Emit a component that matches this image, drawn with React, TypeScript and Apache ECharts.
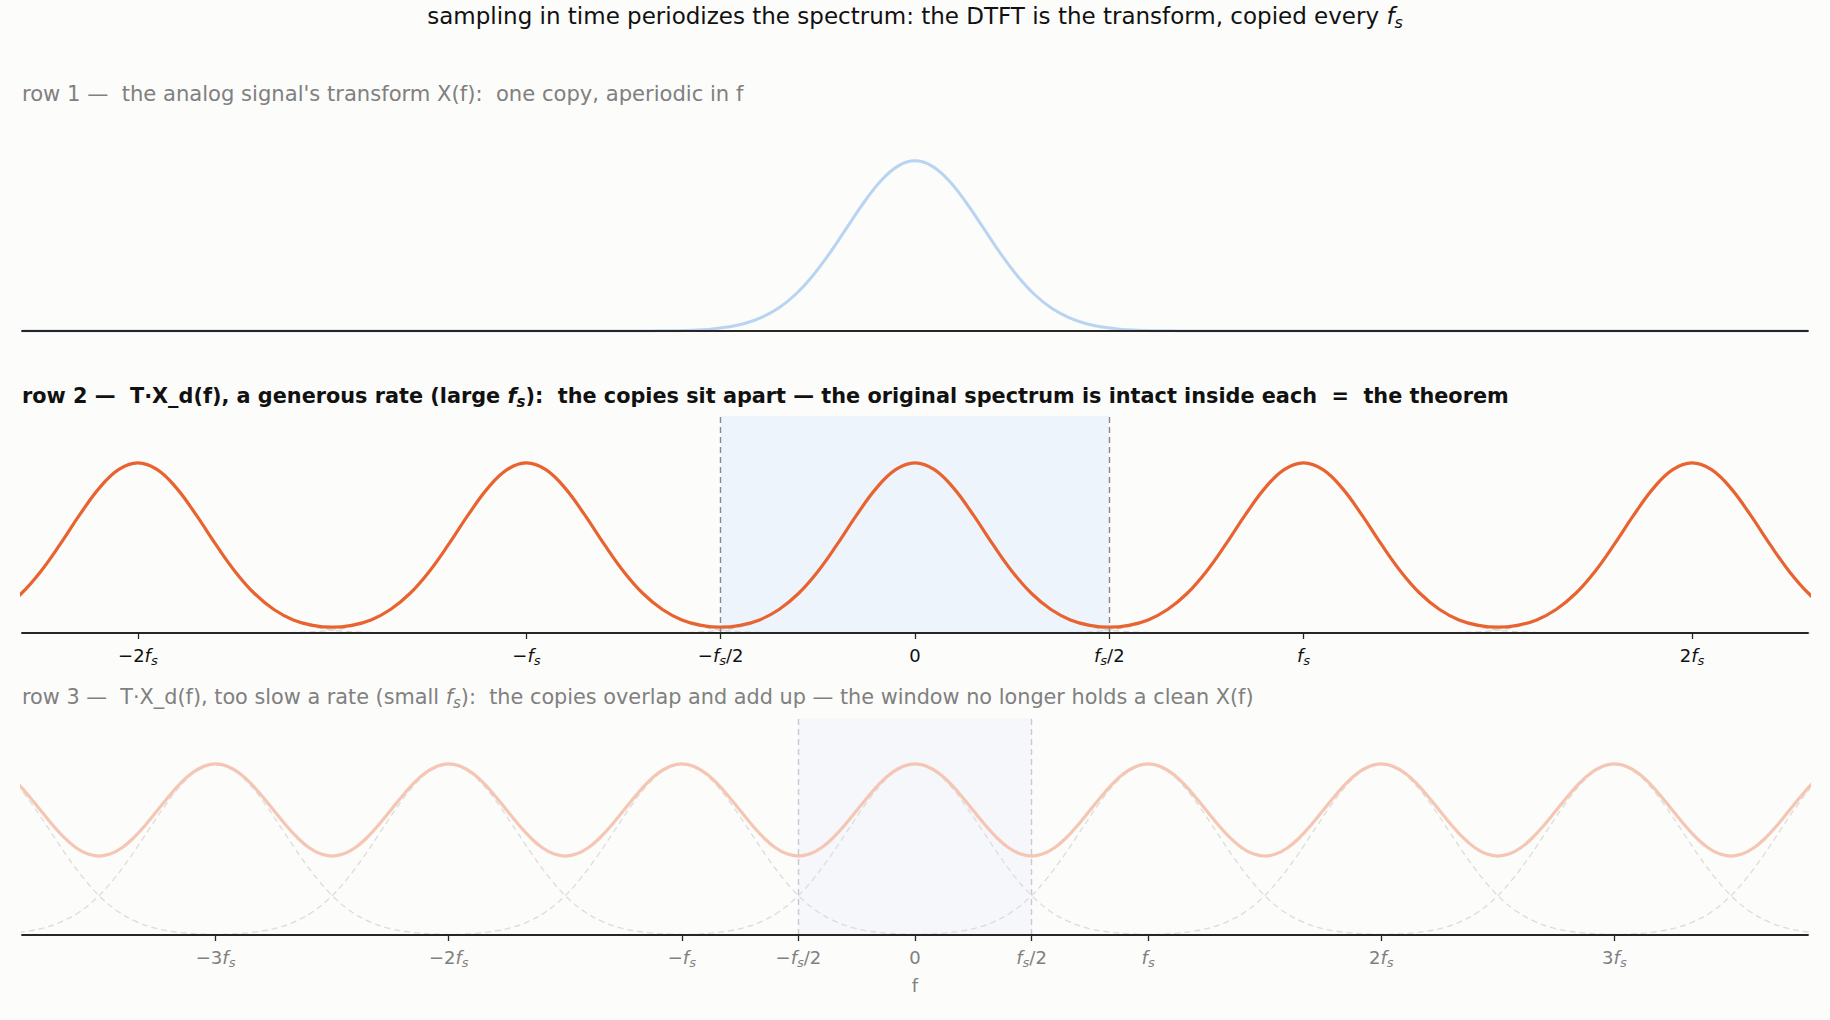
import React, { useEffect, useRef } from "react";
import * as echarts from "echarts";

// ---- data (x in units of the spectrum's width) ----
const FS_LARGE = 5.7; // generous sampling rate (row 2)
const FS_SMALL = 3.42; // too slow a sampling rate (row 3)
const X_HALF = 13.1; // x-axis runs from -X_HALF to X_HALF
const Y_TOP = 1.275;

// one copy of X(f): height at distance d from its centre
const PROFILE_D = [0, 0.25, 0.5, 0.75, 1, 1.25, 1.5, 1.75, 2, 2.25, 2.5, 2.75, 3, 3.25, 3.5, 3.75, 4, 4.5];
const PROFILE_Y = [1, 0.969, 0.883, 0.755, 0.607, 0.458, 0.325, 0.216, 0.135, 0.08, 0.044, 0.023, 0.011, 0.005, 0.002, 0.001, 0.0003, 0];

// periodized sum over one half period, at u * fs from a peak
const PERIOD_U = [0, 0.05, 0.1, 0.15, 0.2, 0.25, 0.3, 0.35, 0.4, 0.45, 0.5];
const ROW2_SUM = [1.0, 0.96, 0.85, 0.694, 0.522, 0.362, 0.232, 0.138, 0.077, 0.045, 0.034];
const ROW3_SUM = [1.006, 0.992, 0.953, 0.892, 0.815, 0.731, 0.648, 0.573, 0.514, 0.477, 0.464];

const ROW2_COPIES = [-3, -2, -1, 0, 1, 2, 3];
const ROW3_COPIES = [-4, -3, -2, -1, 0, 1, 2, 3, 4];

const ROW2_TICKS = [-2, -1, -0.5, 0, 0.5, 1, 2];
const ROW2_LABELS = ["−2{i|f}{s|s}", "−{i|f}{s|s}", "−{i|f}{s|s}/2", "0", "{i|f}{s|s}/2", "{i|f}{s|s}", "2{i|f}{s|s}"];
const ROW3_TICKS = [-3, -2, -1, -0.5, 0, 0.5, 1, 2, 3];
const ROW3_LABELS = ["−3{i|f}{s|s}", "−2{i|f}{s|s}", "−{i|f}{s|s}", "−{i|f}{s|s}/2", "0", "{i|f}{s|s}/2", "{i|f}{s|s}", "2{i|f}{s|s}", "3{i|f}{s|s}"];

const TITLE = "sampling in time periodizes the spectrum: the DTFT is the transform, copied every {i|f}{s|s}";
const ROW1_TITLE = "row 1 —  the analog signal's transform X(f):  one copy, aperiodic in f";
const ROW2_TITLE = "row 2 —  T·X_d(f), a generous rate (large {i|f}{s|s}):  the copies sit apart — the original spectrum is intact inside each  =  the theorem";
const ROW3_TITLE = "row 3 —  T·X_d(f), too slow a rate (small {i|f}{s|s}):  the copies overlap and add up — the window no longer holds a clean X(f)";
const X_LABEL = "f";

const FONT = "DejaVu Sans";
const BG = "#fcfcfa";
const BLUE = "#b9d4f1";
const ORANGE = "#e8632f";
const SALMON = "#f5c6b4";
const GRAY = "#808080";
const INK = "#111111";

function copyPoints(center: number): number[][] {
  const pts: number[][] = [];
  for (let i = PROFILE_D.length - 1; i > 0; i--) pts.push([center - PROFILE_D[i], PROFILE_Y[i]]);
  for (let i = 0; i < PROFILE_D.length; i++) pts.push([center + PROFILE_D[i], PROFILE_Y[i]]);
  return pts;
}

function sumPoints(fs: number, vals: number[], kMin: number, kMax: number): number[][] {
  const pts: number[][] = [];
  for (let k = kMin; k <= kMax; k++) {
    for (let i = PERIOD_U.length - 1; i > 0; i--) {
      if (k > kMin && i === PERIOD_U.length - 1) continue;
      pts.push([(k - PERIOD_U[i]) * fs, vals[i]]);
    }
    for (let i = 0; i < PERIOD_U.length; i++) pts.push([(k + PERIOD_U[i]) * fs, vals[i]]);
  }
  return pts;
}

function rich(size: number, color: string, weight: string) {
  return {
    i: { fontStyle: "italic", fontSize: size, fontFamily: FONT, fill: color, color, fontWeight: weight, lineHeight: size * 1.3 },
    s: {
      fontStyle: "italic",
      fontSize: Math.round(size * 0.7),
      fontFamily: FONT,
      fill: color,
      color,
      fontWeight: weight,
      lineHeight: Math.round(size * 0.7),
      verticalAlign: "bottom",
    },
  };
}

function textEl(text: string, x: number, y: number, size: number, color: string, weight: string, align: string) {
  return {
    type: "text",
    x,
    y,
    silent: true,
    style: {
      text,
      fill: color,
      fontSize: size,
      fontFamily: FONT,
      fontWeight: weight,
      lineHeight: size * 1.3,
      align,
      textAlign: align,
      verticalAlign: "middle",
      textVerticalAlign: "middle",
      rich: rich(size, color, weight),
    },
  };
}

function xAxisFor(grid: number, ticks: number[] | null, labels: string[] | null, fs: number, labelColor: string) {
  const values = ticks ? ticks.map((t) => t * fs) : [];
  return {
    type: "value",
    gridIndex: grid,
    min: -X_HALF,
    max: X_HALF,
    z: 10,
    axisLine: { show: true, onZero: false, lineStyle: { color: "#262626", width: 1.8 } },
    splitLine: { show: false },
    axisTick: ticks
      ? { show: true, customValues: values, length: 6, inside: false, lineStyle: { color: "#262626", width: 1.3 } }
      : { show: false },
    axisLabel: ticks
      ? {
          show: true,
          customValues: values,
          margin: 11,
          fontSize: 18,
          lineHeight: 18 * 1.3,
          fontFamily: FONT,
          color: labelColor,
          formatter: (v: number) => {
            let best = 0;
            for (let i = 0; i < values.length; i++) if (Math.abs(values[i] - v) < Math.abs(values[best] - v)) best = i;
            return labels ? labels[best] : "";
          },
          rich: rich(18, labelColor, "normal"),
        }
      : { show: false },
  };
}

function yAxisFor(grid: number) {
  return { type: "value", gridIndex: grid, min: 0, max: Y_TOP, show: false, splitLine: { show: false } };
}

export default function App() {
  const ref = useRef<HTMLDivElement>(null);
  useEffect(() => {
    if (!ref.current) return;
    const chart = echarts.init(ref.current, undefined, { renderer: "svg" });

    const series: any[] = [];
    const lineBase = { type: "line", showSymbol: false, symbol: "none", silent: true, smooth: 0.4, emphasis: { disabled: true } };

    // row 1
    series.push({
      ...lineBase,
      xAxisIndex: 0,
      yAxisIndex: 0,
      data: [[-X_HALF, 0], ...copyPoints(0), [X_HALF, 0]],
      lineStyle: { color: BLUE, width: 3 },
      z: 3,
    });

    // row 2: band + window edges
    series.push({
      ...lineBase,
      xAxisIndex: 1,
      yAxisIndex: 1,
      data: [],
      markArea: {
        silent: true,
        itemStyle: { color: "#edf4fc" },
        data: [[{ xAxis: -FS_LARGE / 2, yAxis: 0 }, { xAxis: FS_LARGE / 2, yAxis: Y_TOP }]],
      },
      markLine: {
        silent: true,
        symbol: "none",
        label: { show: false },
        lineStyle: { color: "#888888", width: 1.4, type: [6, 4] },
        data: [{ xAxis: -FS_LARGE / 2 }, { xAxis: FS_LARGE / 2 }],
      },
    });
    ROW2_COPIES.forEach((k) =>
      series.push({
        ...lineBase,
        xAxisIndex: 1,
        yAxisIndex: 1,
        data: copyPoints(k * FS_LARGE),
        lineStyle: { color: "#d4d4d4", width: 1.3, type: [6, 4] },
        z: 2,
      })
    );
    series.push({
      ...lineBase,
      xAxisIndex: 1,
      yAxisIndex: 1,
      data: sumPoints(FS_LARGE, ROW2_SUM, -3, 3),
      lineStyle: { color: ORANGE, width: 3.2 },
      z: 4,
    });

    // row 3
    series.push({
      ...lineBase,
      xAxisIndex: 2,
      yAxisIndex: 2,
      data: [],
      markArea: {
        silent: true,
        itemStyle: { color: "#f6f7fb" },
        data: [[{ xAxis: -FS_SMALL / 2, yAxis: 0 }, { xAxis: FS_SMALL / 2, yAxis: Y_TOP }]],
      },
      markLine: {
        silent: true,
        symbol: "none",
        label: { show: false },
        lineStyle: { color: "#c9c9d2", width: 1.4, type: [6, 4] },
        data: [{ xAxis: -FS_SMALL / 2 }, { xAxis: FS_SMALL / 2 }],
      },
    });
    ROW3_COPIES.forEach((k) =>
      series.push({
        ...lineBase,
        xAxisIndex: 2,
        yAxisIndex: 2,
        data: copyPoints(k * FS_SMALL),
        lineStyle: { color: "#dcdcdc", width: 1.3, type: [6, 4] },
        z: 2,
      })
    );
    series.push({
      ...lineBase,
      xAxisIndex: 2,
      yAxisIndex: 2,
      data: sumPoints(FS_SMALL, ROW3_SUM, -5, 5),
      lineStyle: { color: SALMON, width: 3.2 },
      z: 4,
    });

    chart.setOption({
      animation: false,
      backgroundColor: BG,
      grid: [
        { left: 22, right: 22, top: 114, height: 217 },
        { left: 22, right: 22, top: 416, height: 217 },
        { left: 22, right: 22, top: 718, height: 217 },
      ],
      xAxis: [
        xAxisFor(0, null, null, 1, INK),
        xAxisFor(1, ROW2_TICKS, ROW2_LABELS, FS_LARGE, INK),
        xAxisFor(2, ROW3_TICKS, ROW3_LABELS, FS_SMALL, GRAY),
      ],
      yAxis: [yAxisFor(0), yAxisFor(1), yAxisFor(2)],
      series,
      graphic: [
        textEl(TITLE, 915, 16, 23, INK, "normal", "center"),
        textEl(ROW1_TITLE, 22, 93, 21.1, GRAY, "normal", "left"),
        textEl(ROW2_TITLE, 22, 396, 20.8, INK, "bold", "left"),
        textEl(ROW3_TITLE, 22, 697, 20.8, GRAY, "normal", "left"),
        textEl(X_LABEL, 915, 985, 18, GRAY, "normal", "center"),
      ],
    });
    return () => chart.dispose();
  }, []);
  return <div ref={ref} style={{ position: "fixed", left: 0, top: 0, width: 1830, height: 1020 }} />;
}
